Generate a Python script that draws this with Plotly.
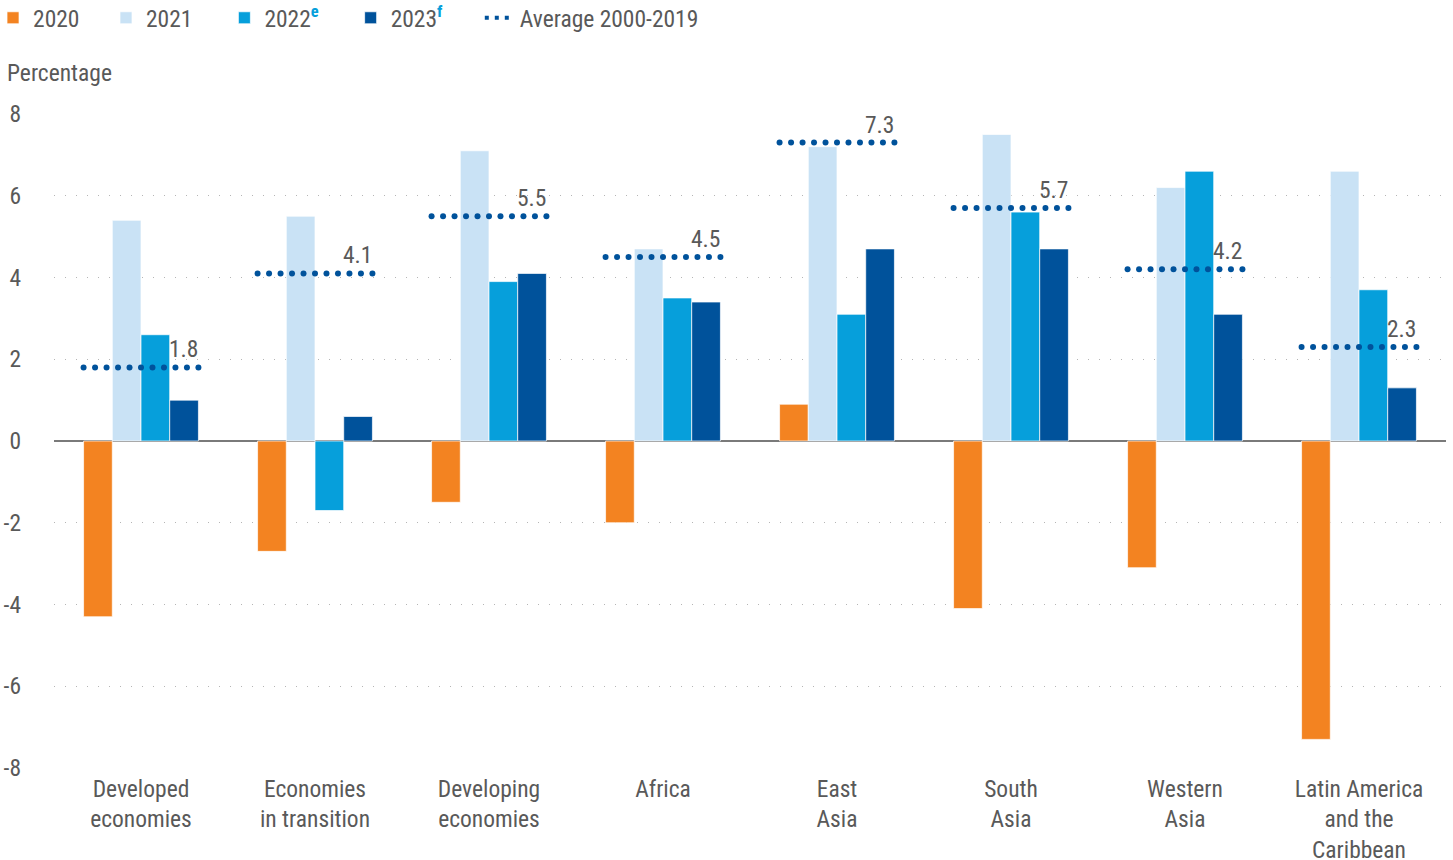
import numpy as np
import plotly.graph_objects as go

categories = ["Developed<br>economies", "Economies<br>in transition", "Developing<br>economies",
              "Africa", "East<br>Asia", "South<br>Asia", "Western<br>Asia",
              "Latin America<br>and the<br>Caribbean"]
y2020 = [-4.3, -2.7, -1.5, -2.0, 0.9, -4.1, -3.1, -7.3]
y2021 = [5.4, 5.5, 7.1, 4.7, 7.2, 7.5, 6.2, 6.6]
y2022 = [2.6, -1.7, 3.9, 3.5, 3.1, 5.6, 6.6, 3.7]
y2023 = [1.0, 0.6, 4.1, 3.4, 4.7, 4.7, 3.1, 1.3]
avg_2000_2019 = [1.8, 4.1, 5.5, 4.5, 7.3, 5.7, 4.2, 2.3]
y_ticks = [-8, -6, -4, -2, 0, 2, 4, 6, 8]

FONT = "Roboto Condensed, Liberation Sans Narrow, Roboto, sans-serif"
FS = 23.5
GRAY = "#595959"
C2020, C2021, C2022, C2023 = "#F38321", "#C9E2F5", "#069FDB", "#00529B"
sup = lambda s: f"<sup><b><span style='color:{C2022}'>{s}</span></b></sup>"
nb = "\u00a0"

xs = list(range(len(categories)))
fig = go.Figure()
series = [("2020" + nb * 4, y2020, C2020), ("2021" + nb * 5, y2021, C2021),
          ("2022" + sup("e") + nb * 5, y2022, C2022), ("2023" + sup("f") + nb * 6, y2023, C2023)]
for name, vals, col in series:
    fig.add_trace(go.Bar(x=xs, y=vals, name=name, marker_color=col,
                         marker_line=dict(color="rgba(255,255,255,0.7)", width=1)))

half = 0.33
ndots = 11
dx, dy = [], []
for i, a in enumerate(avg_2000_2019):
    for t in np.linspace(i - half, i + half, ndots):
        dx.append(t)
        dy.append(a)
fig.add_trace(go.Scatter(x=dx, y=dy, mode="markers", showlegend=False,
                         marker=dict(size=6, color=C2023), hoverinfo="skip"))
fig.add_trace(go.Scatter(x=[None], y=[None], mode="lines", name="Average 2000-2019",
                         line=dict(color=C2023, width=4, dash="4px,6px")))

for i, a in enumerate(avg_2000_2019):
    fig.add_annotation(x=i + half + 0.01, y=a, text=f"{a:.1f}", showarrow=False,
                       xanchor="right", yanchor="bottom", yshift=2,
                       font=dict(size=FS, color=GRAY, family=FONT))

fig.add_annotation(xref="paper", yref="paper", x=-0.0355, y=1.0384, xanchor="left", yanchor="bottom",
                   text="Percentage", showarrow=False, font=dict(size=FS, color=GRAY, family=FONT))

fig.update_layout(
    width=1453, height=860,
    margin=dict(l=54, r=7, t=114, b=92, autoexpand=False),
    paper_bgcolor="white", plot_bgcolor="white",
    barmode="group", bargap=0.34, bargroupgap=0,
    font=dict(family=FONT, size=FS, color=GRAY),
    legend=dict(orientation="h", x=-0.0438, y=1.1468, xanchor="left", yanchor="middle",
                font=dict(size=FS, color=GRAY, family=FONT),
                itemwidth=30, traceorder="normal", bgcolor="rgba(0,0,0,0)"),
    showlegend=True,
)
fig.update_xaxes(range=[-0.5, len(categories) - 0.5], tickvals=xs, ticktext=categories,
                 showgrid=False, zeroline=False, showline=False, ticks="", ticklabelstandoff=4,
                 tickfont=dict(size=FS, color=GRAY, family=FONT))
fig.update_yaxes(range=[-8, 8], tickvals=y_ticks, ticktext=[str(v) for v in y_ticks],
                 showgrid=True, gridcolor="#b5b5b5", gridwidth=1, griddash="1px,10px",
                 zeroline=True, zerolinecolor="#7a7a7a", zerolinewidth=2,
                 ticks="", ticklabelstandoff=32,
                 tickfont=dict(size=FS, color=GRAY, family=FONT))

fig.write_html("out.html", config={"displayModeBar": False},
               post_script="document.body.style.margin='0';document.body.style.overflow='hidden';")
